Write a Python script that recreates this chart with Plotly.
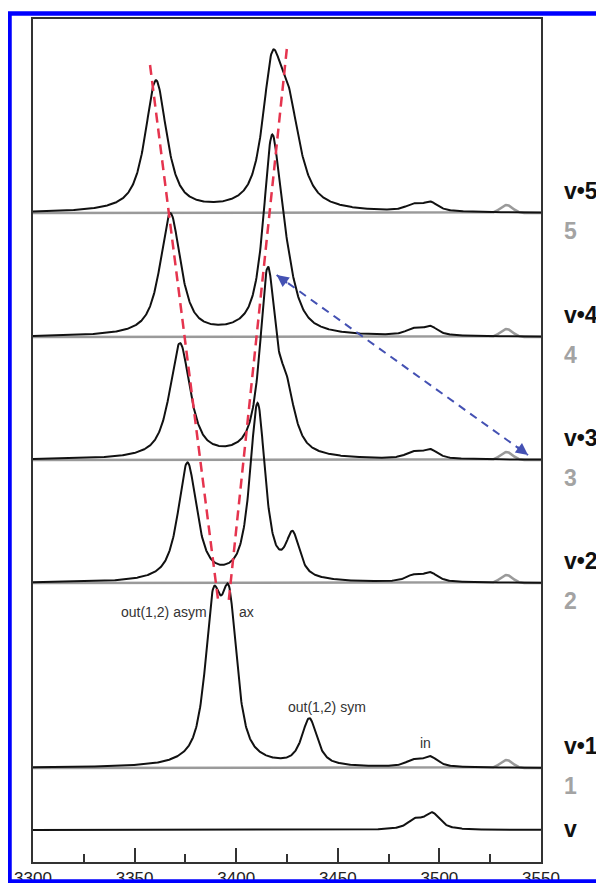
import numpy as np
import plotly.graph_objects as go

# ---------------- data ----------------
# wavenumber axis
x_ticks = [3300, 3350, 3400, 3450, 3500, 3550]
x_tick_labels = ["3300", "3350", "3400", "3450", "3500", "3550"]

# stacked spectra: baseline offsets (arbitrary intensity units)
spec_names = ["v•5", "v•4", "v•3", "v•2", "v•1", "v"]
spec_offsets = [649, 525, 402, 279, 94, 32]

# band positions (cm-1), heights, widths (FWHM, cm-1) for each black spectrum
v5_centers = [3360.5, 3417.5, 3425.5, 3487.0, 3495.5]
v5_heights = [131, 120, 92, 6, 9]
v5_widths = [12.5, 11, 14, 9, 9]

v4_centers = [3367.6, 3417.5, 3424.0, 3487.0, 3495.5]
v4_heights = [122, 180, 45, 6, 9]
v4_widths = [12, 10, 12, 9, 9]

v3_centers = [3372.3, 3415.5, 3424.5, 3487.0, 3495.5]
v3_heights = [115, 180, 55, 6, 9]
v3_widths = [12, 9, 10, 9, 9]

v2_centers = [3376.0, 3410.5, 3427.8, 3487.0, 3495.5]
v2_heights = [118, 176, 42, 6, 9]
v2_widths = [11, 9, 8, 9, 9]

v1_centers = [3388.6, 3396.5, 3436.0, 3487.0, 3495.5]
v1_heights = [144, 147, 47, 6, 10]
v1_widths = [9.4, 9.4, 9, 9, 9]

v0_centers = [3488.0, 3496.5]
v0_heights = [9, 16]
v0_widths = [9, 9]

# grey reference spectra (n = 5..1): one weak band
grey_names = ["5", "4", "3", "2", "1"]
grey_offsets = [649, 525, 402, 279, 94]
grey_center = 3533.0
grey_height = 8
grey_width = 7

# band labels
band_labels = ["out(1,2) asym", "ax", "out(1,2) sym", "in"]
band_label_x = [3364.5, 3405.3, 3444.7, 3493.4]
band_label_y = [250, 250, 155, 119]

# red guide lines (asym / ax progression)
red_left_x = [3357.6, 3391.2]
red_left_y = [797, 260]
red_right_x = [3424.9, 3396.1]
red_right_y = [813, 257]

# blue double arrow
blue_x = [3419.9, 3543.6]
blue_y = [587, 407]

# ---------------- build ----------------
ETA = 0.8
wn = np.linspace(3300, 3550, 1001)


def band(c, h, w):
    d = 2.0 * (wn - c) / w
    lor = 1.0 / (1.0 + d ** 2)
    gau = np.exp(-np.log(2) * d ** 2)
    return h * (ETA * lor + (1 - ETA) * gau)


def spectrum(cs, hs, ws):
    y = np.zeros_like(wn)
    for c, h, w in zip(cs, hs, ws):
        y += band(c, h, w)
    return y


black_specs = [
    (v5_centers, v5_heights, v5_widths),
    (v4_centers, v4_heights, v4_widths),
    (v3_centers, v3_heights, v3_widths),
    (v2_centers, v2_heights, v2_widths),
    (v1_centers, v1_heights, v1_widths),
    (v0_centers, v0_heights, v0_widths),
]

fig = go.Figure()

for name, off in zip(grey_names, grey_offsets):
    d = 2.0 * (wn - grey_center) / grey_width
    yg = off + grey_height * np.exp(-np.log(2) * d ** 2)
    fig.add_trace(go.Scatter(x=wn, y=yg, mode="lines", name=name,
                             line=dict(color="#9a9a9a", width=2.5),
                             hoverinfo="skip", showlegend=False))

for name, off, (cs, hs, ws) in zip(spec_names, spec_offsets, black_specs):
    fig.add_trace(go.Scatter(x=wn, y=off + spectrum(cs, hs, ws), mode="lines",
                             name=name, line=dict(color="#111111", width=2),
                             hoverinfo="skip", showlegend=False))

for xs, ys in [(red_left_x, red_left_y), (red_right_x, red_right_y)]:
    fig.add_trace(go.Scatter(x=xs, y=ys, mode="lines",
                             line=dict(color="#e5344e", width=2.5, dash="10px,6px"),
                             hoverinfo="skip", showlegend=False))

fig.add_trace(go.Scatter(x=blue_x, y=blue_y, mode="lines",
                         line=dict(color="#4451b3", width=2, dash="8px,6px"),
                         hoverinfo="skip", showlegend=False))

annotations = []
# arrow heads at both ends of blue line
annotations.append(dict(x=blue_x[0], y=blue_y[0], xref="x", yref="y", text="",
                        showarrow=True, ax=12, ay=9, arrowhead=2, arrowsize=1.2,
                        arrowwidth=2, arrowcolor="#4451b3"))
annotations.append(dict(x=blue_x[1], y=blue_y[1], xref="x", yref="y", text="",
                        showarrow=True, ax=-12, ay=-9, arrowhead=2, arrowsize=1.2,
                        arrowwidth=2, arrowcolor="#4451b3"))

for t, bx, by in zip(band_labels, band_label_x, band_label_y):
    annotations.append(dict(x=bx, y=by, xref="x", yref="y", text=t, showarrow=False,
                            font=dict(family="Liberation Sans, Arial", size=14, color="#333333")))

# right-hand labels
label_font = "Liberation Sans, Arial"
for name, off in zip(spec_names, spec_offsets):
    ypos = off + 22 if name != "v" else off + 1
    annotations.append(dict(x=1.041, y=ypos, xref="paper", yref="y", text="<b>%s</b>" % name,
                            showarrow=False, xanchor="left", yanchor="middle",
                            font=dict(family=label_font, size=23, color="#111111")))
for name, off in zip(grey_names, grey_offsets):
    annotations.append(dict(x=1.041, y=off - 18, xref="paper", yref="y", text="<b>%s</b>" % name,
                            showarrow=False, xanchor="left", yanchor="middle",
                            font=dict(family=label_font, size=23, color="#a3a3a3")))

fig.update_layout(
    width=596, height=875,
    margin=dict(l=25, r=63, t=11, b=21, autoexpand=False),
    paper_bgcolor="white", plot_bgcolor="white",
    annotations=annotations,
    shapes=[dict(type="rect", xref="paper", yref="paper",
                 x0=(9.5 - 33) / 508, x1=(602.5 - 33) / 508,
                 y0=(862 - 881.5) / 843, y1=(862 - 13.5) / 843,
                 line=dict(color="#0000ff", width=4.5), layer="above")],
    xaxis=dict(range=[3300, 3550], showgrid=False, zeroline=False, automargin=False,
               showline=True, mirror=True, linecolor="#333333", linewidth=2,
               ticks="inside", tickvals=x_ticks, ticktext=x_tick_labels,
               ticklen=14, tickwidth=2, tickcolor="#333333",
               minor=dict(dtick=25, tick0=3300, ticks="inside", ticklen=8,
                          tickwidth=2, tickcolor="#333333"),
               tickfont=dict(family="Liberation Sans, Arial", size=17, color="#222222"),
               ticklabelstandoff=0),
    yaxis=dict(range=[0, 843], showgrid=False, zeroline=False, showticklabels=False,
               automargin=False,
               showline=True, mirror=True, linecolor="#333333", linewidth=2, ticks=""),
)

fig.write_html("out.html")
